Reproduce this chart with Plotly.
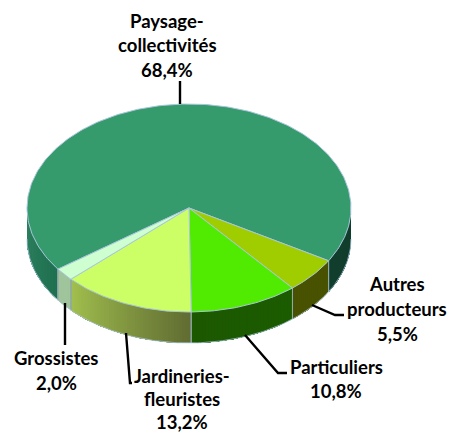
import numpy as np
import plotly.graph_objects as go

# ---- data ----
categories = ["Paysage-collectivités", "Autres producteurs", "Particuliers", "Jardineries-fleuristes", "Grossistes"]
values = [68.4, 5.5, 10.8, 13.2, 2.0]
label_lines = [["Paysage-", "collectivités", "68,4%"],
               ["Autres", "producteurs", "5,5%"],
               ["Particuliers", "10,8%"],
               ["Jardineries-", "fleuristes", "13,2%"],
               ["Grossistes", "2,0%"]]

# ---- style ----
top_colors = ["#369B6C", "#9FCD00", "#50EB00", "#CCFF66", "#CDFFD0"]
wall_colors = [((48, 130, 96), (22, 74, 54)),
               ((72, 82, 0), (72, 82, 0)),
               ((28, 92, 0), (28, 88, 0)),
               ((96, 108, 50), (162, 192, 78)),
               ((160, 196, 156), (160, 196, 156))]
label_pos = [(167, 20.5, 24.5), (397, 284, 25), (336, 366.5, 24.5), (182, 376, 23), (56, 358, 24.5)]
leaders = [[(180, 81), (180, 104)], [(312, 305), (335, 315), (344, 315)],
           [(245, 335), (278, 373), (287, 373)], [(126, 333), (130, 383), (132, 383)],
           [(65, 303), (65, 345)]]
CX, CY, RX, RY, DEPTH = 189, 208, 162, 104, 31
FIRST_ANGLE = 144.0  # degrees clockwise from east, on screen
EDGE = "#A9C6DC"

def px(a):
    return CX + RX * np.cos(np.radians(a))

def py(a):
    return CY + RY * np.sin(np.radians(a))

total = sum(values)
fig = go.Figure()

def mix(c0, c1, t):
    return "rgb(%d,%d,%d)" % tuple(round(u + (v - u) * t) for u, v in zip(c0, c1))

starts, a = [], FIRST_ANGLE
for v in values:
    starts.append(a)
    a += v / total * 360

# side walls, lower half of the ellipse only
separators = []
for i, (s, v) in enumerate(zip(starts, values)):
    e = s + v / total * 360
    cl, cr = wall_colors[i]
    for lo, hi in [(0, 180), (360, 540)]:
        a0, a1 = max(s, lo), min(e, hi)
        if a1 <= a0:
            continue
        segs = max(2, int(a1 - a0))
        grid = np.linspace(a0, a1, segs + 1)
        if i == 0:
            c_a, c_b = ((30, 112, 80), (48, 130, 96)) if lo == 0 else ((18, 62, 45), (18, 62, 45))
        else:
            c_a, c_b = cl, cr
        # each strip runs to the end of the piece, later strips paint over it: no seams
        for k in range(segs):
            g = np.linspace(grid[k], a1, max(2, segs - k + 1))
            xs = np.r_[px(g), px(g[::-1])]
            ys = np.r_[py(g), py(g[::-1]) + DEPTH]
            col = mix(c_a, c_b, (k + .5) / segs)
            fig.add_trace(go.Scatter(x=xs, y=ys, mode="lines", fill="toself", fillcolor=col,
                                     line=dict(width=0), hoverinfo="skip", showlegend=False))
        for b in (a0, a1):
            if b not in (0, 180, 360, 540):
                separators.append(b)

for b in separators:
    fig.add_trace(go.Scatter(x=[px(b), px(b)], y=[py(b), py(b) + DEPTH], mode="lines",
                             line=dict(color="#8FA8A8", width=1), hoverinfo="skip", showlegend=False))

# wall lower rim
rim = np.linspace(0, 180, 181)
fig.add_trace(go.Scatter(x=px(rim), y=py(rim) + DEPTH, mode="lines",
                         line=dict(color=EDGE, width=0.8), hoverinfo="skip", showlegend=False))

# top surface
for i, (s, v) in enumerate(zip(starts, values)):
    g = np.linspace(s, s + v / total * 360, max(3, int(v * 3.6) + 1))
    xs = np.r_[CX, px(g), CX]
    ys = np.r_[CY, py(g), CY]
    fig.add_trace(go.Scatter(x=xs, y=ys, mode="lines", fill="toself", fillcolor=top_colors[i],
                             line=dict(color=EDGE, width=1), name=categories[i],
                             hoverinfo="name", showlegend=False))

# leader lines
for pts in leaders:
    fig.add_trace(go.Scatter(x=[p[0] for p in pts], y=[p[1] for p in pts], mode="lines",
                             line=dict(color="#000000", width=2.4), hoverinfo="skip", showlegend=False))

# labels, one annotation per text line
for lines, (lx, ly, step) in zip(label_lines, label_pos):
    for j, t in enumerate(lines):
        fig.add_annotation(x=lx, y=ly + j * step, text="<b>%s</b>" % t, showarrow=False,
                           xanchor="center", yanchor="middle",
                           font=dict(family="Lato, Carlito, sans-serif", size=18.5, color="#000000"))

fig.update_layout(width=450, height=434, margin=dict(l=0, r=0, t=0, b=0),
                  paper_bgcolor="#FFFFFF", plot_bgcolor="#FFFFFF", showlegend=False,
                  xaxis=dict(range=[0, 450], visible=False, fixedrange=True),
                  yaxis=dict(range=[434, 0], visible=False, fixedrange=True))
fig.write_html("out.html", config=dict(displayModeBar=False),
               post_script="document.body.style.margin='0';document.body.style.overflow='hidden';")
